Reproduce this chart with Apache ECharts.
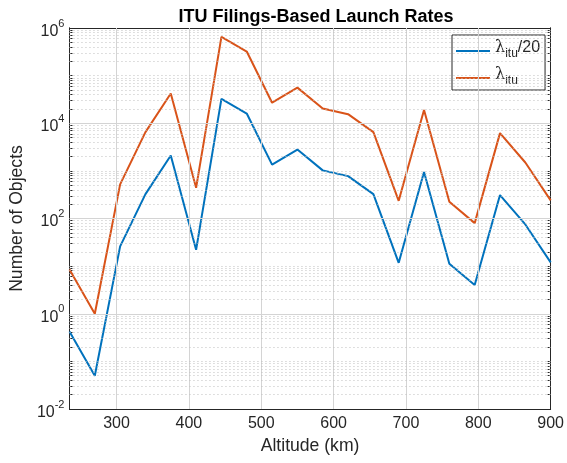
<!DOCTYPE html>
<html>
<head>
<meta charset="utf-8">
<script src="https://cdn.jsdelivr.net/npm/echarts@6/dist/echarts.min.js"></script>
<style>
  html, body { margin: 0; padding: 0; background: #fff; }
  #box1 { width: 567px; height: 463px; }
</style>
</head>
<body>
<div id="box1"></div>
<script>
var altitudes = [235, 270, 305, 340, 375, 410, 445, 480, 515, 550, 585, 620, 655, 690, 725, 760, 795, 830, 865, 900];
var lambdaItu = [8.5, 1, 520, 6500, 42000, 440, 650000, 320000, 27000, 56000, 20500, 15500, 6500, 235, 19000, 225, 80, 6200, 1500, 240];
var lambdaItu20 = [0.425, 0.05, 26, 325, 2100, 22, 32500, 16000, 1350, 2800, 1025, 775, 325, 11.75, 950, 11.25, 4, 310, 75, 12];
var xTicks = [300, 400, 500, 600, 700, 800, 900];
var yTicks = [0.01, 1, 100, 10000, 1000000];

var dom = document.getElementById("box1");
var myChart = echarts.init(dom);
var font = 'Liberation Sans';
var ink = '#262626';

function pairs(ys) {
  return altitudes.map(function (x, i) { return [x, ys[i]]; });
}

// grid lines (MATLAB style): solid at labelled decades, dotted for the rest
var majorGrid = [];
xTicks.slice(0, -1).forEach(function (v) { majorGrid.push({ xAxis: v }); });
[1, 100, 10000].forEach(function (v) { majorGrid.push({ yAxis: v }); });
var minorVals = [];
for (var k = -2; k < 6; k++) {
  for (var m = 1; m < 10; m++) {
    if (m === 1 && k % 2 === 0) continue;
    minorVals.push(m * Math.pow(10, k));
  }
}
var minorGrid = minorVals.map(function (v) { return { yAxis: v }; });

function yLabel(v) {
  var e = Math.round(Math.log10(v));
  if (e % 2 !== 0) return '';
  return '{b|10}{e|' + e + '}';
}

function logAxis(pos, ticks, len, extra) {
  var ax = {
    type: 'log',
    logBase: 10,
    min: 0.01,
    max: 1000000,
    position: pos,
    axisLine: { show: true, lineStyle: { color: ink, width: 1 } },
    axisTick: { show: true, inside: true, length: len, customValues: ticks, lineStyle: { color: ink } },
    axisLabel: { show: false },
    splitLine: { show: false }
  };
  return Object.assign(ax, extra || {});
}

option = {
  animation: false,
  textStyle: { fontFamily: font },
  title: {
    text: 'ITU Filings-Based Launch Rates',
    left: 311,
    top: 3,
    textAlign: 'center',
    textStyle: { fontSize: 18, fontWeight: 'bold', color: '#000', fontFamily: font }
  },
  grid: { left: 67, right: 15, top: 28, bottom: 54 },
  legend: {
    left: 452,
    top: 35,
    orient: 'vertical',
    icon: 'rect',
    itemWidth: 34,
    itemHeight: 2,
    itemGap: 7,
    padding: [5, 5, 3, 4],
    borderColor: ink,
    borderWidth: 1,
    backgroundColor: '#fff',
    data: ['itu20', 'itu'],
    formatter: function (name) {
      return name === 'itu20' ? '{l|λ}{s|itu}{n|/20}' : '{l|λ}{s|itu}';
    },
    textStyle: {
      color: ink,
      fontFamily: font,
      rich: {
        l: { fontSize: 16, fontFamily: 'DejaVu Serif', color: ink, padding: [0, 0, 6, 0] },
        s: { fontSize: 12, color: ink, padding: [6, 0, 0, 0] },
        n: { fontSize: 16, color: ink, padding: [0, 0, 6, 0] }
      }
    }
  },
  xAxis: [{
    type: 'value',
    min: 235,
    max: 900,
    name: 'Altitude (km)',
    nameLocation: 'middle',
    nameGap: 24,
    nameTextStyle: { fontSize: 17.6, color: ink, fontFamily: font },
    axisLine: { show: true, lineStyle: { color: ink, width: 1 } },
    axisTick: { show: true, inside: true, length: 5, customValues: xTicks, lineStyle: { color: ink } },
    axisLabel: { customValues: xTicks, fontSize: 16, color: ink, margin: 7, fontFamily: font },
    splitLine: { show: false }
  }, {
    type: 'value',
    position: 'top',
    min: 235,
    max: 900,
    axisLine: { show: true, lineStyle: { color: ink, width: 1 } },
    axisTick: { show: true, inside: true, length: 5, customValues: xTicks, lineStyle: { color: ink } },
    axisLabel: { show: false },
    splitLine: { show: false }
  }],
  yAxis: [
    logAxis('left', yTicks, 5, {
      name: 'Number of Objects',
      nameLocation: 'middle',
      nameGap: 40,
      nameTextStyle: { fontSize: 17.6, color: ink, fontFamily: font },
      axisLabel: {
        customValues: yTicks,
        formatter: yLabel,
        margin: 5,
        rich: {
          b: { fontSize: 16, color: ink, fontFamily: font, padding: [7, 0, 0, 0] },
          e: { fontSize: 11, color: ink, fontFamily: font, padding: [0, 0, 9, 0] }
        }
      }
    }),
    logAxis('right', yTicks, 5),
    logAxis('left', minorVals, 3),
    logAxis('right', minorVals, 3)
  ],
  series: [
    {
      name: 'grid',
      type: 'line',
      data: [],
      z: 1,
      silent: true,
      markLine: {
        silent: true,
        symbol: 'none',
        label: { show: false },
        animation: false,
        lineStyle: { color: '#d4d4d4', type: 'solid', width: 1 },
        data: majorGrid
      }
    },
    {
      name: 'minor',
      type: 'line',
      data: [],
      z: 1,
      silent: true,
      markLine: {
        silent: true,
        symbol: 'none',
        label: { show: false },
        animation: false,
        lineStyle: { color: '#bfbfbf', type: [1, 3], width: 1 },
        data: minorGrid
      }
    },
    {
      name: 'itu20',
      type: 'line',
      data: pairs(lambdaItu20),
      showSymbol: false,
      z: 3,
      lineStyle: { color: '#0072BD', width: 2 },
      itemStyle: { color: '#0072BD' }
    },
    {
      name: 'itu',
      type: 'line',
      data: pairs(lambdaItu),
      showSymbol: false,
      z: 3,
      lineStyle: { color: '#D95319', width: 2 },
      itemStyle: { color: '#D95319' }
    }
  ]
};

if (option && typeof option === 'object') {
  myChart.setOption(option);
}
</script>
</body>
</html>
